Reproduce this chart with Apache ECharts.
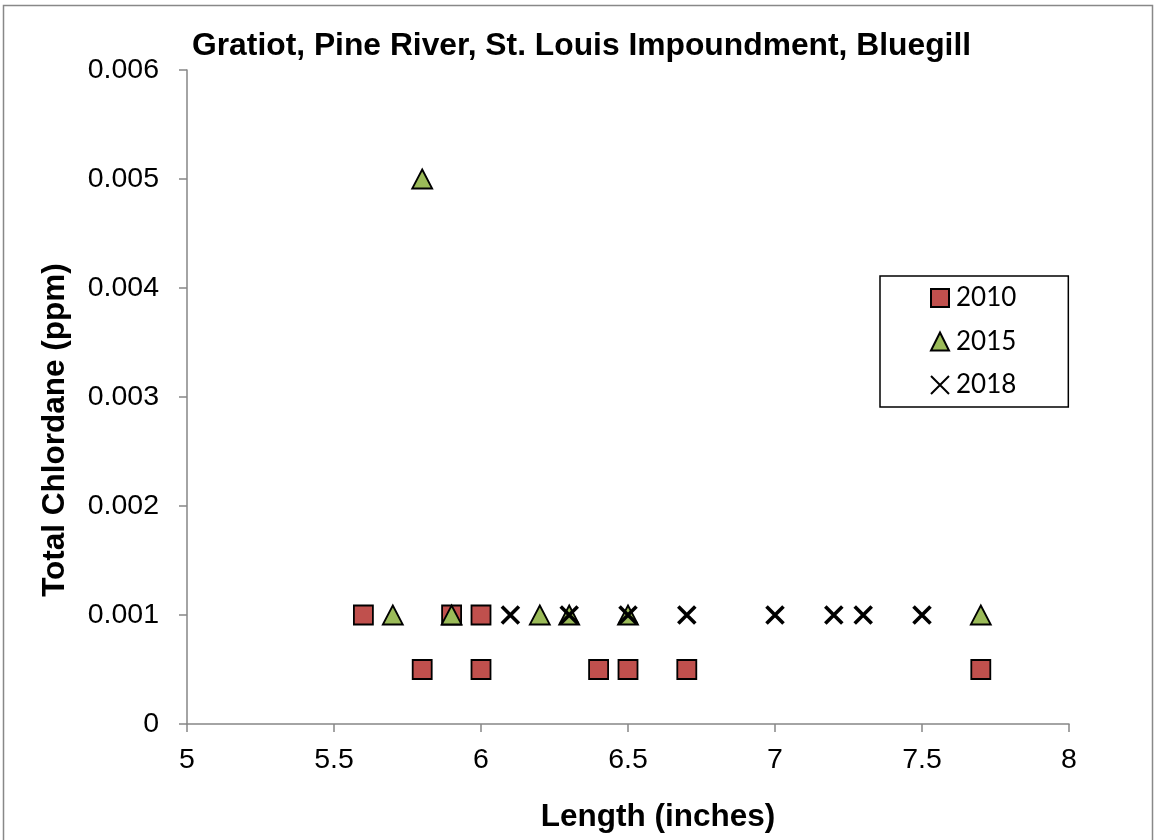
<!DOCTYPE html>
<html><head><meta charset="utf-8">
<script src="https://cdn.jsdelivr.net/npm/echarts@6/dist/echarts.min.js"></script>
<style>html,body{margin:0;padding:0;background:#fff}#c{width:1156px;height:840px}</style>
</head><body><div id="c"></div>
<script>
const titleText = 'Gratiot, Pine River, St. Louis Impoundment, Bluegill';
const xName = 'Length (inches)';
const yName = 'Total Chlordane (ppm)';
const seriesNames = ['2010', '2015', '2018'];
const len2010 = [5.6, 5.9, 6.0, 5.8, 6.0, 6.4, 6.5, 6.7, 7.7];
const val2010 = [0.001, 0.001, 0.001, 0.0005, 0.0005, 0.0005, 0.0005, 0.0005, 0.0005];
const len2015 = [5.8, 5.7, 5.9, 6.2, 6.3, 6.5, 7.7];
const val2015 = [0.005, 0.001, 0.001, 0.001, 0.001, 0.001, 0.001];
const len2018 = [6.1, 6.3, 6.5, 6.7, 7.0, 7.2, 7.3, 7.5];
const val2018 = [0.001, 0.001, 0.001, 0.001, 0.001, 0.001, 0.001, 0.001];

const pair = (xs, ys) => xs.map((x, i) => [x, ys[i]]);
const chart = echarts.init(document.getElementById('c'));
const axisCol = '#868686';
const font = 'Liberation Sans, Arial, sans-serif';
chart.setOption({
  animation: false,
  backgroundColor: '#fff',
  title: {
    text: titleText, left: 187, top: 25,
    textStyle: {fontFamily: font, fontWeight: 'bold', fontSize: 31.8, color: '#000'}
  },
  grid: {left: 187, right: 87, top: 70, bottom: 116, containLabel: false},
  xAxis: {
    type: 'value', min: 5, max: 8, interval: 0.5,
    name: xName, nameLocation: 'middle', nameGap: 77,
    nameTextStyle: {fontFamily: font, fontWeight: 'bold', fontSize: 31.5, color: '#000', padding: [0, 0, 0, 60]},
    axisLine: {show: true, lineStyle: {color: axisCol, width: 1.5}},
    axisTick: {show: true, length: 8, lineStyle: {color: axisCol, width: 1.5}},
    axisLabel: {fontFamily: font, fontSize: 28.5, color: '#000', margin: 22},
    splitLine: {show: false}
  },
  yAxis: {
    type: 'value', min: 0, max: 0.006, interval: 0.001,
    name: yName, nameLocation: 'middle', nameGap: 116,
    nameTextStyle: {fontFamily: font, fontWeight: 'bold', fontSize: 31.5, color: '#000', padding: [0, 66, 0, 0]},
    axisLine: {show: true, lineStyle: {color: axisCol, width: 1.5}},
    axisTick: {show: true, length: 8, lineStyle: {color: axisCol, width: 1.5}},
    axisLabel: {fontFamily: font, fontSize: 28.5, color: '#000', margin: 28,
      formatter: v => v === 0 ? '0' : v.toFixed(3)},
    splitLine: {show: false}
  },
  legend: {
    orient: 'vertical', left: 880, top: 276,
    padding: [9, 52, 9, 50], itemGap: 17.5, itemWidth: 18, itemHeight: 18,
    borderColor: '#000', borderWidth: 1.5, backgroundColor: '#fff',
    textStyle: {fontFamily: 'Lato, Carlito, Calibri, sans-serif', fontSize: 26, color: '#000', lineHeight: 26, padding: [0, 0, 0, 2]},
    data: seriesNames
  },
  graphic: [{
    type: 'rect', shape: {x: 3.5, y: 5.5, width: 1149, height: 840},
    style: {fill: 'none', stroke: '#888', lineWidth: 1.5}, silent: true, z: -10
  }],
  series: [
    {name: seriesNames[0], type: 'scatter', symbol: 'rect', symbolSize: 19,
     itemStyle: {color: '#C0504D', borderColor: '#000', borderWidth: 1.8, opacity: 1},
     data: pair(len2010, val2010)},
    {name: seriesNames[1], type: 'scatter', symbol: 'triangle', symbolSize: [20, 19],
     itemStyle: {color: '#9BBB59', borderColor: '#000', borderWidth: 1.8, opacity: 1},
     data: pair(len2015, val2015)},
    {name: seriesNames[2], type: 'scatter', symbol: 'path://M0,0L10,10M10,0L0,10', symbolSize: 17,
     itemStyle: {color: 'rgba(0,0,0,0)', borderColor: '#000', borderWidth: 3.6, opacity: 1},
     data: pair(len2018, val2018)}
  ]
});
</script></body></html>
